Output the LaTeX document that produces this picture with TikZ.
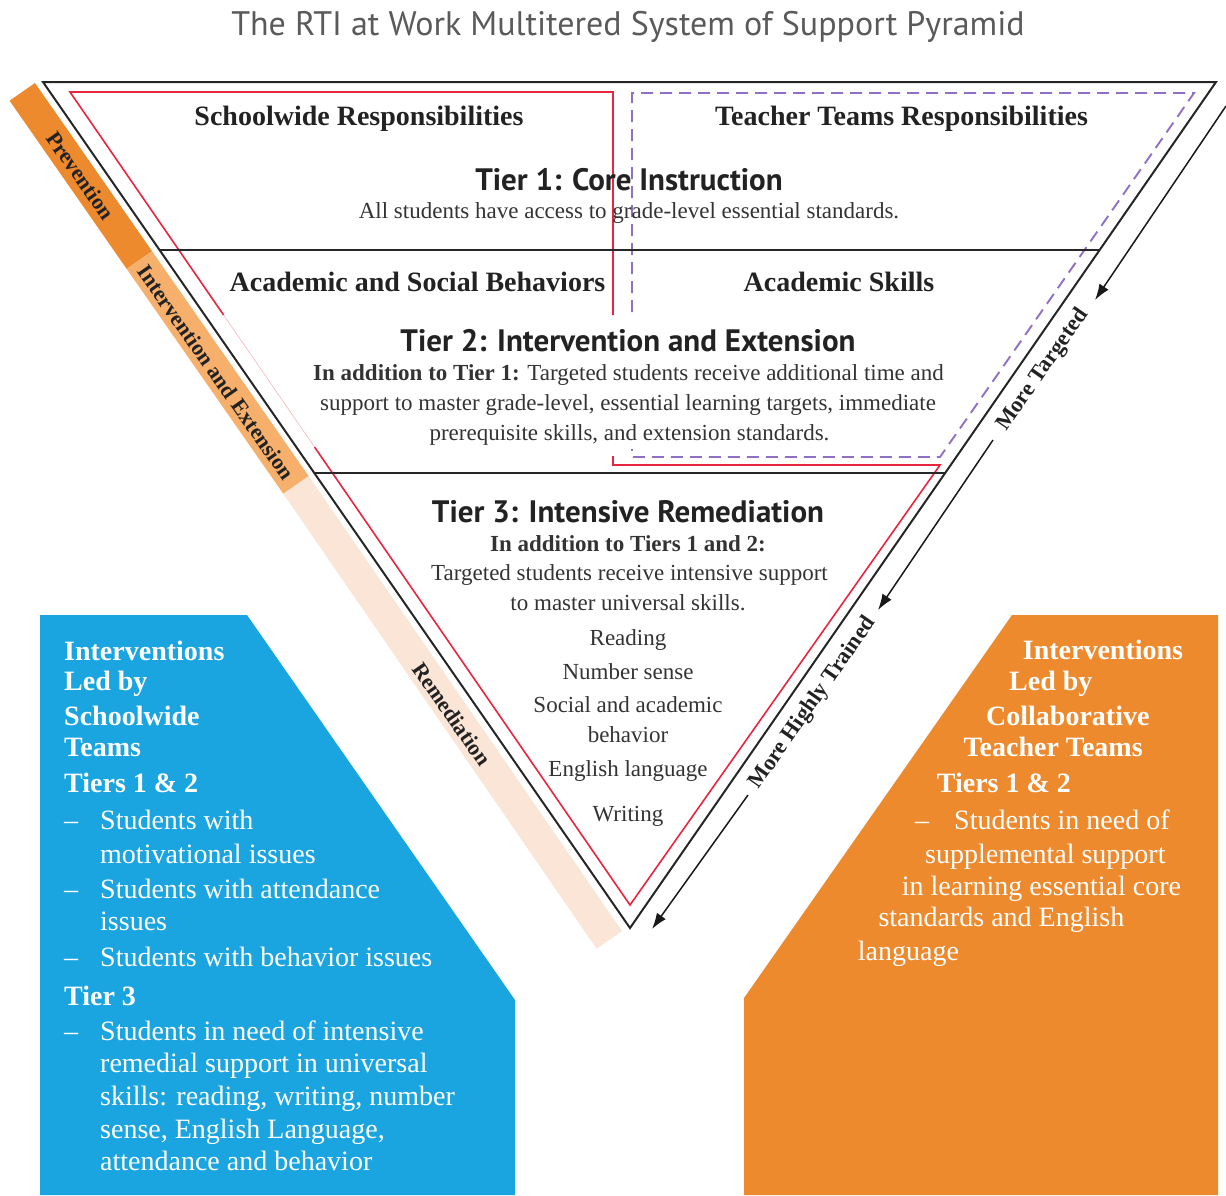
\documentclass[tikz,border=0pt]{standalone}
\usepackage{fontspec}
\setmainfont{Liberation Serif}
\newfontfamily\sansf{PT Sans}
\usetikzlibrary{arrows.meta,calc}
\definecolor{rtired}{HTML}{E8253F}
\definecolor{rtipurple}{HTML}{9070C4}
\definecolor{rtiblue}{HTML}{1BA5E0}
\definecolor{rtiorange}{HTML}{EE8A2E}
\definecolor{rtiorangeL}{HTML}{F7B06B}
\definecolor{rtipale}{HTML}{FAE5D6}
\definecolor{rtitext}{HTML}{333333}
\definecolor{rtidark}{HTML}{222222}
\definecolor{rtititle}{HTML}{5A5A5A}
\newcommand{\rtisize}[1]{\fontsize{#1}{#1}\selectfont}
\tikzset{
  ttl/.style={font=\sansf\rtisize{34}, text=rtititle, anchor=base, inner sep=0pt},
  hd/.style={font=\bfseries\rtisize{28}, text=rtidark, anchor=base, inner sep=0pt},
  tierhd/.style={font=\sansf\bfseries\rtisize{31}, text=rtidark, anchor=base, inner sep=0pt},
  body/.style={font=\rtisize{23}, text=rtitext, anchor=base, inner sep=0pt},
  bandtxt/.style={font=\bfseries\rtisize{22}, text=rtidark, inner sep=0pt, rotate=-55},
  sidetxt/.style={font=\bfseries\rtisize{22.5}, text=rtidark, inner sep=0pt, rotate=55},
  boxh/.style={font=\bfseries\rtisize{28}, text=white, anchor=base west, inner sep=0pt},
  boxt/.style={font=\rtisize{28}, text=white, anchor=base west, inner sep=0pt},
  tri/.style={draw=black!85, line width=2pt},
  redl/.style={draw=rtired, line width=1.6pt},
  purp/.style={draw=rtipurple, line width=1.9pt, dash pattern=on 12pt off 7pt},
  arr/.style={draw=black!90, line width=1.5pt, -{Latex[length=16pt,width=11pt]}}
}
\begin{document}
\begin{tikzpicture}[x=1pt,y=-1pt,line join=miter]
\useasboundingbox (0,0) rectangle (1226,1195);

% ---- left band ----
\fill[rtiorange]  (35,83) -- (152.1,251.2) -- (126.7,268.9) -- (9.6,100.7) -- cycle;
\fill[rtiorangeL] (152.1,251.2) -- (308.7,476.1) -- (283.3,493.8) -- (126.7,268.9) -- cycle;
\fill[rtipale]    (308.7,476.1) -- (622,931) -- (596.6,948.7) -- (283.3,493.8) -- cycle;

% ---- bottom boxes ----
\fill[rtiblue] (40,615) -- (247,615) -- (515,1000) -- (515,1195) -- (40,1195) -- cycle;
\fill[rtiorange] (1012,615) -- (1218,615) -- (1218,1195) -- (744,1195) -- (744,998) -- cycle;

% ---- triangle ----
\coordinate (TL) at (43,82);
\coordinate (TR) at (1216,82);
\coordinate (AP) at (630,928);
\coordinate (L1) at ($(TL)!0.19858!(AP)$);
\coordinate (R1) at ($(TR)!0.19858!(AP)$);
\coordinate (L2) at ($(TL)!0.46217!(AP)$);
\coordinate (R2) at ($(TR)!0.46217!(AP)$);

% red outline
\coordinate (r0) at (70,92);
\coordinate (r1) at (613,92);
\coordinate (rA) at (630,905);
\coordinate (r2) at (940,465);
\coordinate (rgA) at ($(r0)!0.2743!(rA)$);
\coordinate (rgB) at ($(r0)!0.4367!(rA)$);
\draw[redl] (613,315) -- (r1) -- (r0) -- (rgA);
\draw[draw=rtired!35, line width=0.6pt] (rgA) -- (rgB);
\draw[redl] (rgB) -- (rA) -- (r2) -- (613,465) -- (613,456);

% purple dashed outline
\coordinate (p0) at (632,93);
\coordinate (p1) at (1194,93);
\coordinate (p2) at (940,457);
\coordinate (p3) at (632,457);
\draw[purp] (632,312) -- (p0) -- (p1) -- (p2) -- (p3) -- (632,449);

\draw[tri] (TL) -- (TR) -- (AP) -- cycle;
\draw[tri] (L1) -- (R1);
\draw[tri] (L2) -- (R2);

% ---- right arrows ----
\coordinate (a0) at (1226,106);
\coordinate (a1) at (1095,300);
\coordinate (a2) at (993,440);
\coordinate (a3) at (878,610);
\coordinate (a4) at (748,795);
\coordinate (a5) at (652,929);
\draw[arr] (a0) -- (a1);
\draw[arr] (a2) -- (a3);
\draw[arr] (a4) -- (a5);
\node[sidetxt] (mt) at (1043,370) {More Targeted};
\node[sidetxt] (mht) at (813,703) {More Highly Trained};

% ---- band labels ----
\node[bandtxt] (bp) at (80.6,175.6) {Prevention};
\node[bandtxt] (bi) at (216,372) {Intervention and Extension};
\node[bandtxt] (br) at (452,714) {Remediation};

% ---- title ----
\node[ttl] (title) at (628,35) {The RTI at Work Multitered System of Support Pyramid};

% ---- tier 1 ----
\node[hd] (swr) at (359,125) {Schoolwide Responsibilities};
\node[hd] (ttr) at (901.5,125) {Teacher Teams Responsibilities};
\node[tierhd] (t1) at (629,190) {Tier 1: Core Instruction};
\node[body] (t1a) at (629,218) {All students have access to grade-level essential standards.};

% ---- tier 2 ----
\node[hd] (asb) at (417.5,291) {Academic and Social Behaviors};
\node[hd] (ask) at (839,291) {Academic Skills};
\node[tierhd] (t2) at (628,351) {Tier 2: Intervention and Extension};
\node[body] (t2a) at (628.5,380) {\textbf{In addition to Tier 1:} Targeted students receive additional time and};
\node[body] (t2b) at (628,410) {support to master grade-level, essential learning targets, immediate};
\node[body] (t2c) at (629.5,440) {prerequisite skills, and extension standards.};

% ---- tier 3 ----
\node[tierhd] (t3) at (628,522) {Tier 3: Intensive Remediation};
\node[body] (t3a) at (628,551) {\textbf{In addition to Tiers 1 and 2:}};
\node[body] (t3b) at (629.5,580.7) {Targeted students receive intensive support};
\node[body] (t3c) at (628,610.7) {to master universal skills.};
\node[body] (t3d) at (628,645) {Reading};
\node[body] (t3e) at (628,679) {Number sense};
\node[body] (t3f) at (628,712.7) {Social and academic};
\node[body] (t3g) at (628,742.3) {behavior};
\node[body] (t3h) at (628,776.7) {English language};
\node[body] (t3i) at (628,821.7) {Writing};

% ---- blue box text ----
\node[boxh] (b1) at (64,660) {Interventions};
\node[boxh] (b2) at (64,690.7) {Led by};
\node[boxh] (b3) at (64,725) {Schoolwide};
\node[boxh] (b4) at (64,756.7) {Teams};
\node[boxh] (b5) at (64,792.7) {Tiers 1 \& 2};
\node[boxt] (b6d) at (64,829.3) {–};
\node[boxt] (b6) at (100,829.3) {Students with};
\node[boxt] (b7) at (100,863.3) {motivational issues};
\node[boxt] (b8d) at (64,898.3) {–};
\node[boxt] (b8) at (100,898.3) {Students with attendance};
\node[boxt] (b9) at (100,930.7) {issues};
\node[boxt] (b10d) at (64,966.7) {–};
\node[boxt] (b10) at (100,966.7) {Students with behavior issues};
\node[boxh] (b11) at (64,1005) {Tier 3};
\node[boxt] (b12d) at (64,1040) {–};
\node[boxt] (b12) at (100,1040) {Students in need of intensive};
\node[boxt] (b13) at (100,1072.5) {remedial support in universal};
\node[boxt] (b14) at (100,1105) {skills: reading, writing, number};
\node[boxt] (b15) at (100,1138) {sense, English Language,};
\node[boxt] (b16) at (100,1170) {attendance and behavior};

% ---- orange box text ----
\node[boxh] (o1) at (1022.7,659.3) {Interventions};
\node[boxh] (o2) at (1009,690.7) {Led by};
\node[boxh] (o3) at (986,725) {Collaborative};
\node[boxh] (o4) at (963.3,756.7) {Teacher Teams};
\node[boxh] (o5) at (936.7,792.7) {Tiers 1 \& 2};
\node[boxt] (o6d) at (915,829.3) {–};
\node[boxt] (o6) at (954,829.3) {Students in need of};
\node[boxt] (o7) at (925,863.3) {supplemental support};
\node[boxt] (o8) at (901.7,895) {in learning essential core};
\node[boxt] (o9) at (878.3,926.7) {standards and English};
\node[boxt] (o10) at (857.7,960) {language};
\end{tikzpicture}
\end{document}
